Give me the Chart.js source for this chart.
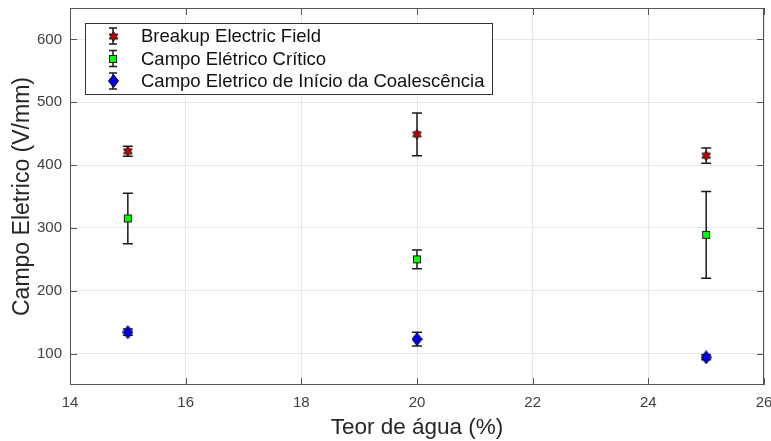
<!DOCTYPE html>
<html>
<head>
<meta charset="utf-8">
<script src="https://cdn.jsdelivr.net/npm/chart.js@4/dist/chart.umd.min.js"></script>
<style>
  html, body { margin: 0; padding: 0; background: #fff; }
  #wrap { width: 771px; height: 441px; position: relative; }
</style>
</head>
<body>
<div id="wrap"><canvas id="chart"></canvas></div>
<script>
// data
const waterContent = [15, 20, 25];
const breakupField = [422, 449, 415];
const breakupErr = [8, 34, 12];
const criticalField = [315, 250, 289];
const criticalErr = [40, 15, 69];
const coalescenceField = [134, 123, 94];
const coalescenceErr = [5, 11, 4];
const xTicks = [14, 16, 18, 20, 22, 24, 26];
const yTicks = [100, 200, 300, 400, 500, 600];
const seriesNames = [
  'Breakup Electric Field',
  'Campo Elétrico Crítico',
  'Campo Eletrico de Início da Coalescência'
];

const FONT = '"Liberation Sans", Arial, Helvetica, sans-serif';

// marker images
const makeMarker = (w, h, draw) => {
  const c = document.createElement('canvas');
  c.width = w; c.height = h;
  const g = c.getContext('2d');
  draw(g, w, h);
  return c;
};

const hexagram = makeMarker(11, 11, (g, w, h) => {
  const cx = w / 2, cy = h / 2, ro = 5, ri = 2.9;
  g.beginPath();
  for (let k = 0; k < 12; k++) {
    const r = k % 2 ? ri : ro;
    const a = -Math.PI / 2 + k * Math.PI / 6;
    const px = cx + r * Math.cos(a), py = cy + r * Math.sin(a);
    k ? g.lineTo(px, py) : g.moveTo(px, py);
  }
  g.closePath();
  g.fillStyle = '#c00000';
  g.fill();
  g.lineWidth = 1;
  g.strokeStyle = '#1a1a1a';
  g.stroke();
});

const square = makeMarker(10, 10, (g) => {
  g.fillStyle = '#00ff00';
  g.fillRect(1, 1, 8, 8);
  g.lineWidth = 1;
  g.strokeStyle = '#1a1a1a';
  g.strokeRect(1.5, 1.5, 7, 7);
});

const diamond = makeMarker(11, 14, (g, w, h) => {
  g.beginPath();
  g.moveTo(w / 2, 0.5);
  g.lineTo(w - 0.5, h / 2);
  g.lineTo(w / 2, h - 0.5);
  g.lineTo(0.5, h / 2);
  g.closePath();
  g.fillStyle = '#0000e0';
  g.fill();
  g.lineWidth = 1;
  g.strokeStyle = '#000050';
  g.stroke();
});

const markers = [hexagram, square, diamond];

const toPoints = (vals) => waterContent.map((x, i) => ({ x, y: vals[i] }));

const drawBar = (ctx, px, top, bot, cap) => {
  ctx.beginPath();
  ctx.moveTo(px, top); ctx.lineTo(px, bot);
  ctx.moveTo(px - cap, top); ctx.lineTo(px + cap, top);
  ctx.moveTo(px - cap, bot); ctx.lineTo(px + cap, bot);
  ctx.stroke();
};

const errorBars = {
  id: 'errorBars',
  beforeDatasetsDraw(chart) {
    const { ctx, scales: { x, y } } = chart;
    ctx.save();
    ctx.strokeStyle = '#1a1a1a';
    ctx.lineWidth = 1.5;
    chart.data.datasets.forEach((ds) => {
      ds.data.forEach((p, j) => {
        const px = x.getPixelForValue(p.x);
        const top = y.getPixelForValue(p.y + ds.errors[j]);
        const bot = y.getPixelForValue(p.y - ds.errors[j]);
        drawBar(ctx, px, top, bot, 5);
      });
    });
    ctx.restore();
  },
  afterDraw(chart) {
    const { ctx, chartArea: a, scales: { x, y } } = chart;
    ctx.save();
    // box and inner ticks
    ctx.strokeStyle = '#555';
    ctx.lineWidth = 1;
    ctx.strokeRect(a.left + 0.5, a.top + 0.5, a.right - a.left - 1, a.bottom - a.top - 1);
    ctx.beginPath();
    xTicks.forEach((v) => {
      const px = Math.round(x.getPixelForValue(v)) + 0.5;
      ctx.moveTo(px, a.bottom); ctx.lineTo(px, a.bottom - 7);
      ctx.moveTo(px, a.top); ctx.lineTo(px, a.top + 7);
    });
    yTicks.forEach((v) => {
      const py = Math.round(y.getPixelForValue(v)) + 0.5;
      ctx.moveTo(a.left, py); ctx.lineTo(a.left + 7, py);
      ctx.moveTo(a.right, py); ctx.lineTo(a.right - 7, py);
    });
    ctx.stroke();

    // legend
    const lx = 85, ly = 23, lw = 407, lh = 71;
    ctx.fillStyle = '#fff';
    ctx.fillRect(lx, ly, lw, lh);
    ctx.strokeStyle = '#333';
    ctx.strokeRect(lx + 0.5, ly + 0.5, lw, lh);
    ctx.font = '18.5px ' + FONT;
    ctx.textBaseline = 'middle';
    ctx.textAlign = 'left';
    seriesNames.forEach((name, i) => {
      const cy = ly + 13 + i * 22.5;
      ctx.strokeStyle = '#1a1a1a';
      ctx.lineWidth = 1.5;
      drawBar(ctx, 113, cy - 8, cy + 8, 4);
      const m = markers[i];
      ctx.drawImage(m, Math.round(113 - m.width / 2), Math.round(cy - m.height / 2));
      ctx.fillStyle = '#111';
      ctx.fillText(name, 141, cy + 1);
    });
    ctx.restore();
  }
};

const makeDataset = (label, vals, errs, marker) => ({
  label,
  data: toPoints(vals),
  errors: errs,
  pointStyle: marker,
  pointRadius: 6,
  pointHoverRadius: 6,
  showLine: false
});

new Chart(document.getElementById('chart'), {
  type: 'scatter',
  data: {
    datasets: [
      makeDataset(seriesNames[0], breakupField, breakupErr, hexagram),
      makeDataset(seriesNames[1], criticalField, criticalErr, square),
      makeDataset(seriesNames[2], coalescenceField, coalescenceErr, diamond)
    ]
  },
  options: {
    responsive: true,
    maintainAspectRatio: false,
    animation: false,
    layout: { padding: { top: 8, right: 7, left: 0, bottom: 0 } },
    plugins: { legend: { display: false }, tooltip: { enabled: false } },
    scales: {
      x: {
        type: 'linear',
        min: 14,
        max: 26,
        afterBuildTicks: (s) => { s.ticks = xTicks.map((v) => ({ value: v })); },
        afterFit: (s) => { s.height = 56; s.paddingLeft = 0; s.paddingRight = 0; },
        grid: { color: '#e6e6e6', drawTicks: false },
        border: { display: false },
        ticks: { color: '#404040', font: { family: FONT, size: 15 }, padding: 9 },
        title: {
          display: true,
          text: 'Teor de água (%)',
          color: '#262626',
          font: { family: FONT, size: 22.5 },
          padding: { top: 0, bottom: 0 }
        }
      },
      y: {
        type: 'linear',
        min: 50,
        max: 650,
        afterBuildTicks: (s) => { s.ticks = yTicks.map((v) => ({ value: v })); },
        afterFit: (s) => { s.width = 70; s.paddingTop = 0; s.paddingBottom = 0; },
        grid: { color: '#e6e6e6', drawTicks: false },
        border: { display: false },
        ticks: { color: '#404040', font: { family: FONT, size: 15 }, padding: 8 },
        title: {
          display: true,
          text: 'Campo Eletrico (V/mm)',
          color: '#262626',
          font: { family: FONT, size: 23 },
          padding: { top: 9, bottom: 0 }
        }
      }
    }
  },
  plugins: [errorBars]
});
</script>
</body>
</html>
